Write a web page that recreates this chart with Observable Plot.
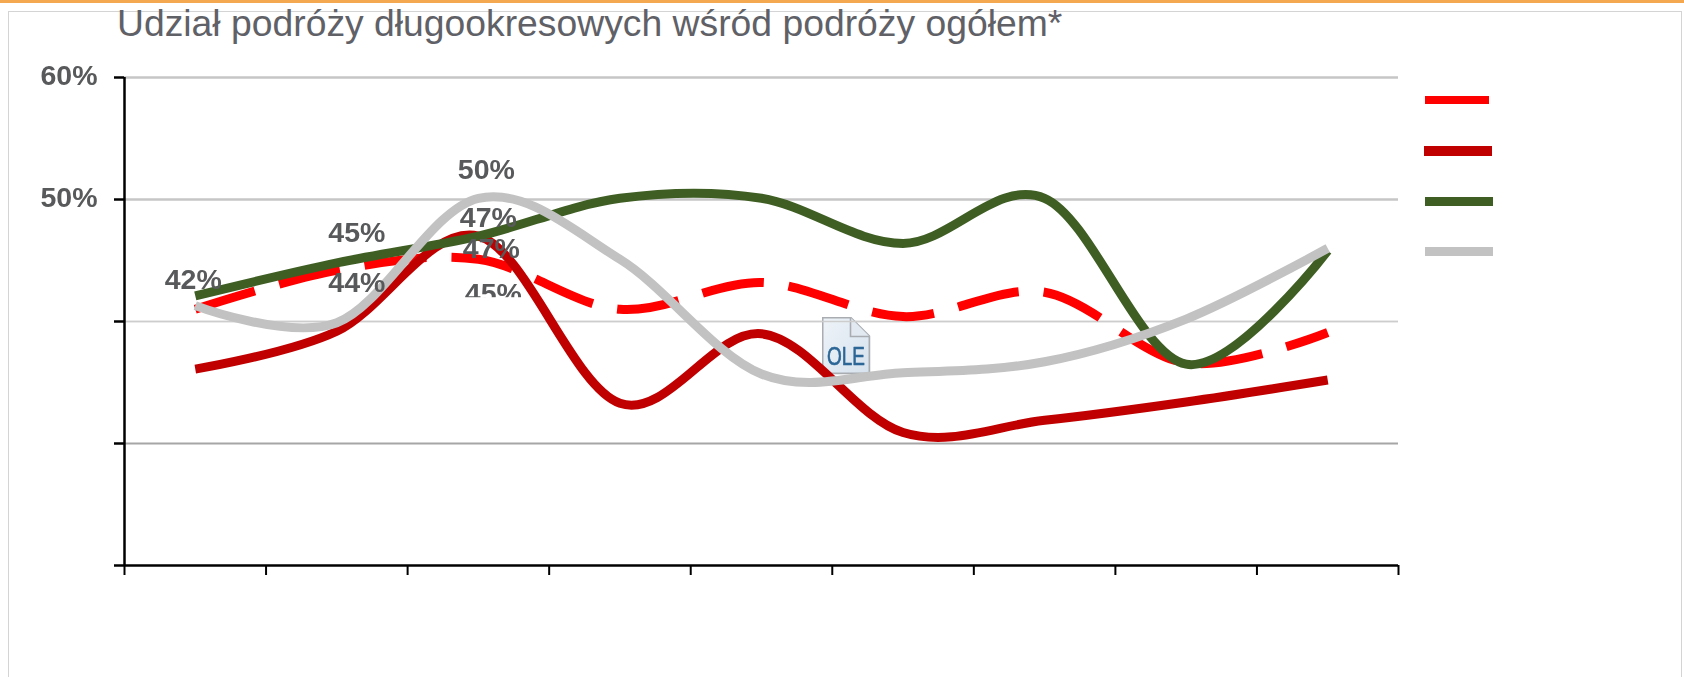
<!DOCTYPE html>
<html lang="pl">
<head>
<meta charset="utf-8">
<script src="https://cdn.jsdelivr.net/npm/d3@7"></script>
<script src="https://cdn.jsdelivr.net/npm/@observablehq/plot@0.6"></script>
<style>
  html, body { margin: 0; padding: 0; background: #fff; overflow: hidden; }
  #page { position: relative; width: 1684px; height: 677px; font-family: "Liberation Sans", Arial, sans-serif; }
  #band { position: absolute; left: 0; top: 0; width: 1684px; height: 3px; background: #f4a850; }
  #panel { position: absolute; left: 8px; top: 11px; width: 1672px; height: 680px; border: 1.5px solid #d4d4d4; }
  #title { position: absolute; left: 117px; top: 2px; margin: 0; font-size: 37.3px; font-weight: 400; line-height: 42px; color: #5f6167; white-space: nowrap; }
  #chart { position: absolute; left: 0; top: 0; }
  #chart svg { filter: blur(0.45px); }
  .swatch { position: absolute; box-sizing: border-box; }
</style>
</head>
<body>
<div id="page">
  <div id="band"></div>
  <div id="panel"></div>
  <div id="chart"></div>
  <h1 id="title"></h1>
  <div id="legend"></div>
</div>
<script>
const titleText = "Udział podróży długookresowych wśród podróży ogółem*";

// Share of long-term trips, per cent; one value per unlabelled category slot
const slots = [0, 1, 2, 3, 4, 5, 6, 7, 8];
const dashedRed = [41.0, 44.2, 45.1, 41.0, 43.2, 40.4, 42.4, 36.6, 39.1];
const darkRed   = [36.1, 39.2, 47.0, 33.3, 39.0, 30.9, 31.9, 33.4, 35.2];
const green     = [42.1, 44.8, 47.0, 50.1, 50.1, 46.4, 50.1, 36.5, 45.8];
const gray      = [41.3, 39.9, 50.1, 45.1, 35.7, 35.8, 36.7, 40.2, 46.0];

const yTicks = [20, 30, 40, 50, 60];
const xTicks = [0, 1, 2, 3, 4, 5, 6, 7, 8, 9];
const shownYTicks = [50, 60];
const gridValues = [30, 40, 50, 60];

const colors = { dashedRed: "#ff0000", darkRed: "#c00000", green: "#3f5e24", gray: "#c2c2c2" };
const textColor = "#58595b";

const slotX = (d, i) => slots[i] + 0.5;
const seriesLine = (values, stroke, extra = {}) =>
  Plot.line(values, { x: slotX, y: d => d, stroke, strokeWidth: 9, curve: "cardinal", tension: 0,
                      strokeLinecap: "butt", ...extra });
const label = (values, i, text, dx, dy) =>
  Plot.text([text], { x: () => slots[i] + 0.5, y: () => values[i], text: d => d, dx, dy,
                      fontSize: 28.5, fontWeight: 700, fill: textColor, textAnchor: "middle", lineAnchor: "middle",
                      fontFamily: "Liberation Sans" });

const oleIcon = "data:image/svg+xml," + encodeURIComponent(
  '<svg xmlns="http://www.w3.org/2000/svg" viewBox="0 0 49 58"><defs><linearGradient id="g" x1="0" y1="0" x2="1" y2="1">' +
  '<stop offset="0" stop-color="#eef3f8"/><stop offset="1" stop-color="#d6e2ee"/></linearGradient></defs>' +
  '<path d="M1 1H29L48 20V57H1Z" fill="url(#g)" stroke="#a9adb2" stroke-width="2"/>' +
  '<path d="M29 1V20H48" fill="#e2e9f1" stroke="#a9adb2" stroke-width="1.6"/></svg>');

const chart = Plot.plot({
  width: 1684,
  height: 677,
  marginLeft: 124,
  marginRight: 286,
  marginTop: 77,
  marginBottom: 112,
  x: { domain: [0, 9], axis: null },
  y: { domain: [20, 60], axis: null },
  style: { background: "transparent", overflow: "visible" },
  marks: [
    Plot.ruleY(gridValues.filter(v => v !== 30 && v !== 40), { stroke: "#c6c6c6", strokeWidth: 2.5 }),
    Plot.ruleY([40], { stroke: "#cdcdcd", strokeWidth: 1.5 }),
    Plot.ruleY([30], { stroke: "#a6a6a6", strokeWidth: 2 }),
    Plot.image([1], { x: () => 5.097, y: () => 38.03, src: () => oleIcon, width: 49, height: 58 }),
    Plot.text(["OLE"], { x: () => 5.097, y: () => 38.03, dy: 11, text: d => d, fontFamily: "Liberation Sans", fontSize: 25, fontWeight: 400,
                         fill: "#2c6697", stroke: "#2c6697", strokeWidth: 0.6, textAnchor: "middle", lineAnchor: "middle",
                         className: "ole" }),
    label(dashedRed, 2, "45%", 15, 35),
    Plot.rect([1], { x1: () => 2.15, x2: () => 2.95, y1: () => 41.95, y2: () => 40.6, fill: "#fff" }),
    Plot.ruleY([40], { stroke: "#cdcdcd", strokeWidth: 1.5 }),
    seriesLine(dashedRed, colors.dashedRed, { strokeDasharray: "62.5,25" }),
    seriesLine(darkRed, colors.darkRed),
    seriesLine(green, colors.green),
    seriesLine(gray, colors.gray),
    label(green, 0, "42%", -2, -16),
    label(green, 1, "45%", 20, -30),
    label(dashedRed, 1, "44%", 20, 13),
    label(gray, 2, "50%", 8, -28),
    label(green, 2, "47%", 10, -18),
    label(darkRed, 2, "47%", 13, 13),
    Plot.ruleX([0], { stroke: "#000", strokeWidth: 2.5 }),
    Plot.ruleY([20], { stroke: "#000", strokeWidth: 2.5 }),
    Plot.axisY({ ticks: yTicks, tickSize: 10, stroke: "#000", strokeWidth: 2.5, tickFormat: null, text: null, label: null }),
    Plot.axisY({ ticks: shownYTicks, tickSize: 0, tickPadding: 27, dy: -2, stroke: "none", tickFormat: v => v + "%", label: null,
                 fontSize: 28.5, fontWeight: 700, fill: textColor, fontFamily: "Liberation Sans" }),
    Plot.axisX({ ticks: xTicks, tickSize: 10, stroke: "#000", strokeWidth: 2, tickFormat: () => "", label: null })
  ]
});
document.getElementById("chart").append(chart);
document.getElementById("title").textContent = titleText;
for (const t of chart.querySelectorAll(".ole text")) {
  t.setAttribute("textLength", "38");
  t.setAttribute("lengthAdjust", "spacingAndGlyphs");
}

// Legend keys only: the reference shows no legend text
const legendKeys = [
  { color: colors.dashedRed, left: 1425, top: 96, width: 64, height: 8 },
  { color: colors.darkRed, left: 1424, top: 146, width: 68, height: 10 },
  { color: colors.green, left: 1425, top: 197, width: 68, height: 9 },
  { color: colors.gray, left: 1425, top: 247, width: 68, height: 9 }
];
const legend = document.getElementById("legend");
for (const k of legendKeys) {
  const el = document.createElement("div");
  el.className = "swatch";
  el.style.cssText = `left:${k.left}px;top:${k.top}px;width:${k.width}px;height:${k.height}px;background:${k.color}`;
  legend.append(el);
}
</script>
</body>
</html>
